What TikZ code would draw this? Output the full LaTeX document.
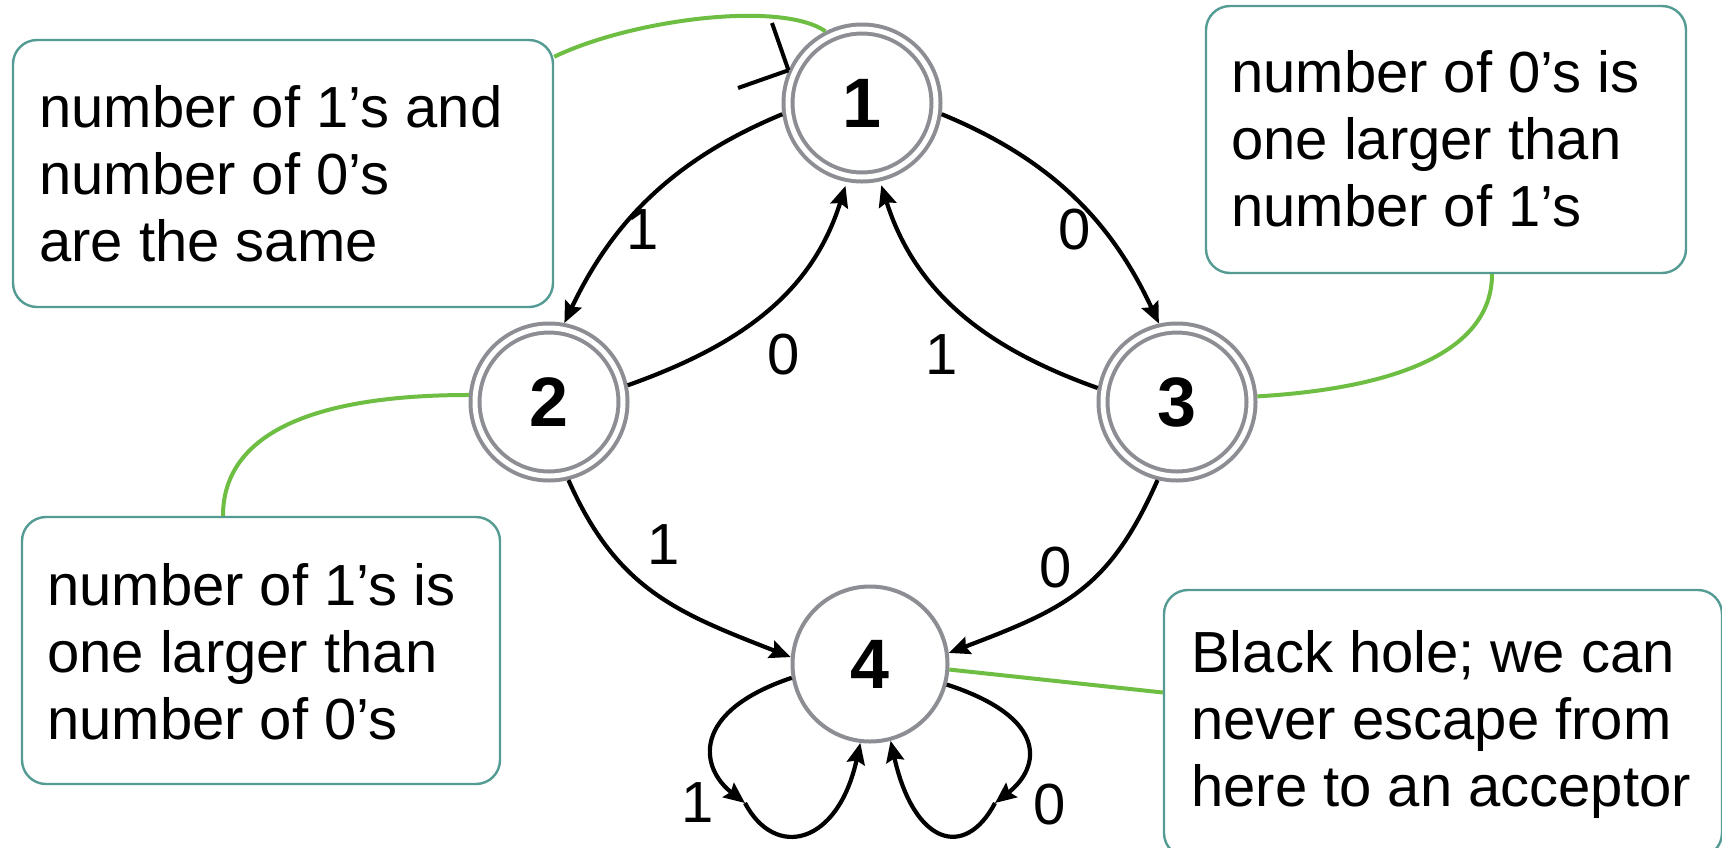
\documentclass[tikz,border=0pt]{standalone}
\usepackage{fontspec}
\setmainfont{Liberation Sans}
\usetikzlibrary{arrows.meta}

\definecolor{ringgray}{RGB}{141,142,147}
\definecolor{callgreen}{RGB}{110,190,68}
\definecolor{noteteal}{RGB}{84,155,148}

\begin{document}
\begin{tikzpicture}[x=1pt,y=-1pt,
  statebase/.style={circle, draw=ringgray, line width=4pt, fill=white, inner sep=0pt,
    font=\fontsize{70}{84}\selectfont\bfseries},
  accepting/.style={statebase, double=white, double distance=5pt, minimum size=148pt, outer sep=6.5pt},
  plainstate/.style={statebase, minimum size=155pt, outer sep=2pt},
  trans/.style={line width=4.2pt, -{Stealth[length=21pt,width=18pt,inset=3pt]}},
  initmark/.style={line width=4pt},
  elabel/.style={inner sep=0pt, font=\fontsize{58}{67}\selectfont},
  notebox/.style={draw=noteteal, line width=2.4pt, rounded corners=24pt, fill=white, inner sep=0pt},
  notetext/.style={anchor=north west, inner sep=0pt, align=left, font=\fontsize{58}{67}\selectfont},
  callout/.style={draw=callgreen, line width=4pt},
]
\fill[white] (0,0) rectangle (1722,847);
\useasboundingbox (0,0) rectangle (1722,847);
\clip (0,0) rectangle (1722,847);

% states
\node[accepting] (s1) at (862,103) {1};
\node[accepting] (s2) at (549,402) {2};
\node[accepting] (s3) at (1177,402) {3};
\node[plainstate] (s4) at (870,664) {4};

% notes
\node[notebox, minimum width=540pt, minimum height=267pt] (boxA) at (283,173.5) {};
\node[notetext] (txtA) at (39,85) {number of 1’s and\\number of 0’s\\are the same};
\node[notebox, minimum width=480pt, minimum height=267pt] (boxB) at (1446,139.5) {};
\node[notetext] (txtB) at (1231,50) {number of 0’s is\\one larger than\\number of 1’s};
\node[notebox, minimum width=478pt, minimum height=267pt] (boxC) at (261,650.5) {};
\node[notetext] (txtC) at (47,563) {number of 1’s is\\one larger than\\number of 0’s};
\node[notebox, minimum width=558pt, minimum height=267pt] (boxD) at (1443,723.5) {};
\node[notetext] (txtD) at (1191,630) {Black hole; we can\\never escape from\\here to an acceptor};

% start marker
\coordinate (init) at (738,88);
\coordinate (initbar) at (772,23);
\draw[initmark] (init) -- (s1.156);
\draw[initmark] (initbar) -- (s1.156);

% transitions
\draw[trans] (s1.188) .. controls (672,160) and (612,223) .. (s2.79);
\draw[trans, shorten >=4pt] (s2.12) .. controls (741,345) and (812,293) .. (s1.259);
\draw[trans, shorten >=4pt] (s3.170) .. controls (985,348) and (915,292) .. (s1.283);
\draw[trans] (s1.352) .. controls (1053,160) and (1112,223) .. (s3.103);
\draw[trans] (s2.284) .. controls (617,590) and (678,613) .. (s4.175);
\draw[trans] (s3.256) .. controls (1109,590) and (1064,609) .. (s4.8);

% self loops on the black hole
\coordinate (m1) at (745,803);
\coordinate (m0) at (995,803);
\draw[trans] (s4.190) .. controls (690,712) and (700,768) .. (m1);
\draw[trans] (m1) .. controls (775,860) and (838,845) .. (s4.263);
\draw[trans] (s4.345) .. controls (1050,718) and (1040,768) .. (m0);
\draw[trans] (m0) .. controls (965,860) and (914,845) .. (s4.285);

% transition labels
\node[elabel] (l12) at (643,230) {1};
\node[elabel] (l21) at (784,355) {0};
\node[elabel] (l31) at (942,355) {1};
\node[elabel] (l13) at (1075,230) {0};
\node[elabel] (l24) at (664,545) {1};
\node[elabel] (l34) at (1056,568) {0};
\node[elabel] (l41) at (698,803) {1};
\node[elabel] (l40) at (1050,805) {0};

% callout leaders
\draw[callout] ([yshift=-18pt]boxA.north east) .. controls (630,20) and (780,0) .. (s1.117);
\draw[callout] (s2.175) .. controls (300,395) and (223,440) .. ([xshift=-38pt]boxC.north);
\draw[callout] (s3.4) .. controls (1400,388) and (1492,350) .. ([xshift=46pt]boxB.south);
\draw[callout] (s4.356) -- ([yshift=31pt]boxD.west);
\end{tikzpicture}
\end{document}
